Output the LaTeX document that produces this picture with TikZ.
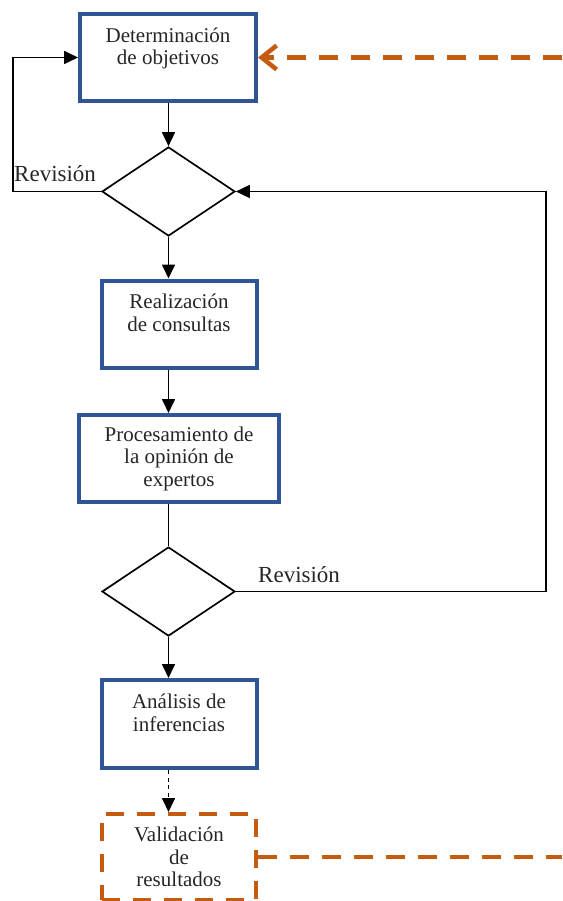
\documentclass[tikz,border=0pt]{standalone}
\usepackage{fontspec}
\setmainfont{Liberation Serif}
\usepackage{tikz}
\usetikzlibrary{arrows.meta,shapes.geometric}
\definecolor{boxblue}{RGB}{47,85,151}
\definecolor{dorange}{RGB}{197,90,17}

\begin{document}
\begin{tikzpicture}[x=1pt,y=1pt,
  box/.style={draw=boxblue,line width=4pt,align=center,inner sep=0pt,text=black!85,
    font=\fontsize{21}{22.5}\selectfont},
  valbox/.style={box,draw=dorange,dash pattern=on 18pt off 13pt},
  decision/.style={draw,diamond,line width=1.7pt,inner sep=0pt,
    minimum width=133pt,minimum height=89pt},
  rev/.style={anchor=base west,inner sep=0pt,text=black!85,font=\fontsize{23}{26}\selectfont},
  arr/.style={line width=1.7pt,-{Triangle[length=14pt,width=13pt]}},
  odash/.style={draw=dorange,line width=4.5pt,dash pattern=on 19pt off 13pt}]
  \useasboundingbox (0,0) rectangle (562,-901);
  \node [box,minimum width=176pt,minimum height=87pt] (det) at (168,-57.5)
    {Determinación\\de objetivos\\\mbox{}};
  \node [decision] (d1) at (168.5,-191.5) {};
  \node [box,minimum width=155pt,minimum height=87pt] (cons) at (179,-324)
    {Realización\\de consultas\\\mbox{}};
  \node [box,minimum width=200pt,minimum height=87pt] (proc) at (179,-458.5)
    {Procesamiento de\\la opinión de\\expertos};
  \node [decision] (d2) at (168.5,-591.5) {};
  \node [box,minimum width=155pt,minimum height=88pt] (anal) at (179,-724)
    {Análisis de\\inferencias\\\mbox{}};
  \node [valbox,minimum width=154pt,minimum height=86pt] (val) at (179,-857)
    {Validación\\de\\resultados};
  \node [rev] (r1) at (14,-182) {Revisión};
  \node [rev] (r2) at (258,-582) {Revisión};
  \coordinate (lp) at (13,-191.5);
  \coordinate (rp) at (546,-591.5);
  \coordinate (oa) at (562,-57.5);
  \coordinate (ob) at (562,-857);
  \draw [arr] (det.south -| d1.north) -- (d1.north);
  \draw [arr] (d1.south) -- (d1.south |- cons.north);
  \draw [arr] (d1.south |- cons.south) -- (d1.south |- proc.north);
  \draw [line width=1.7pt] (d2.north |- proc.south) -- (d2.north);
  \draw [arr] (d2.south) -- (d2.south |- anal.north);
  \draw [arr,dash pattern=on 4pt off 3.5pt] (d2.south |- anal.south) -- (d2.south |- val.north);
  \draw [arr] (d1.west) -- (lp) |- (det.west);
  \draw [arr] (d2.east) -- (rp) |- (d1.east);
  \draw [odash,-{Straight Barb[length=15pt,width=24pt]}] (oa) -- (det.east);
  \draw [odash] (val.east) -- (ob);
\end{tikzpicture}
\end{document}
